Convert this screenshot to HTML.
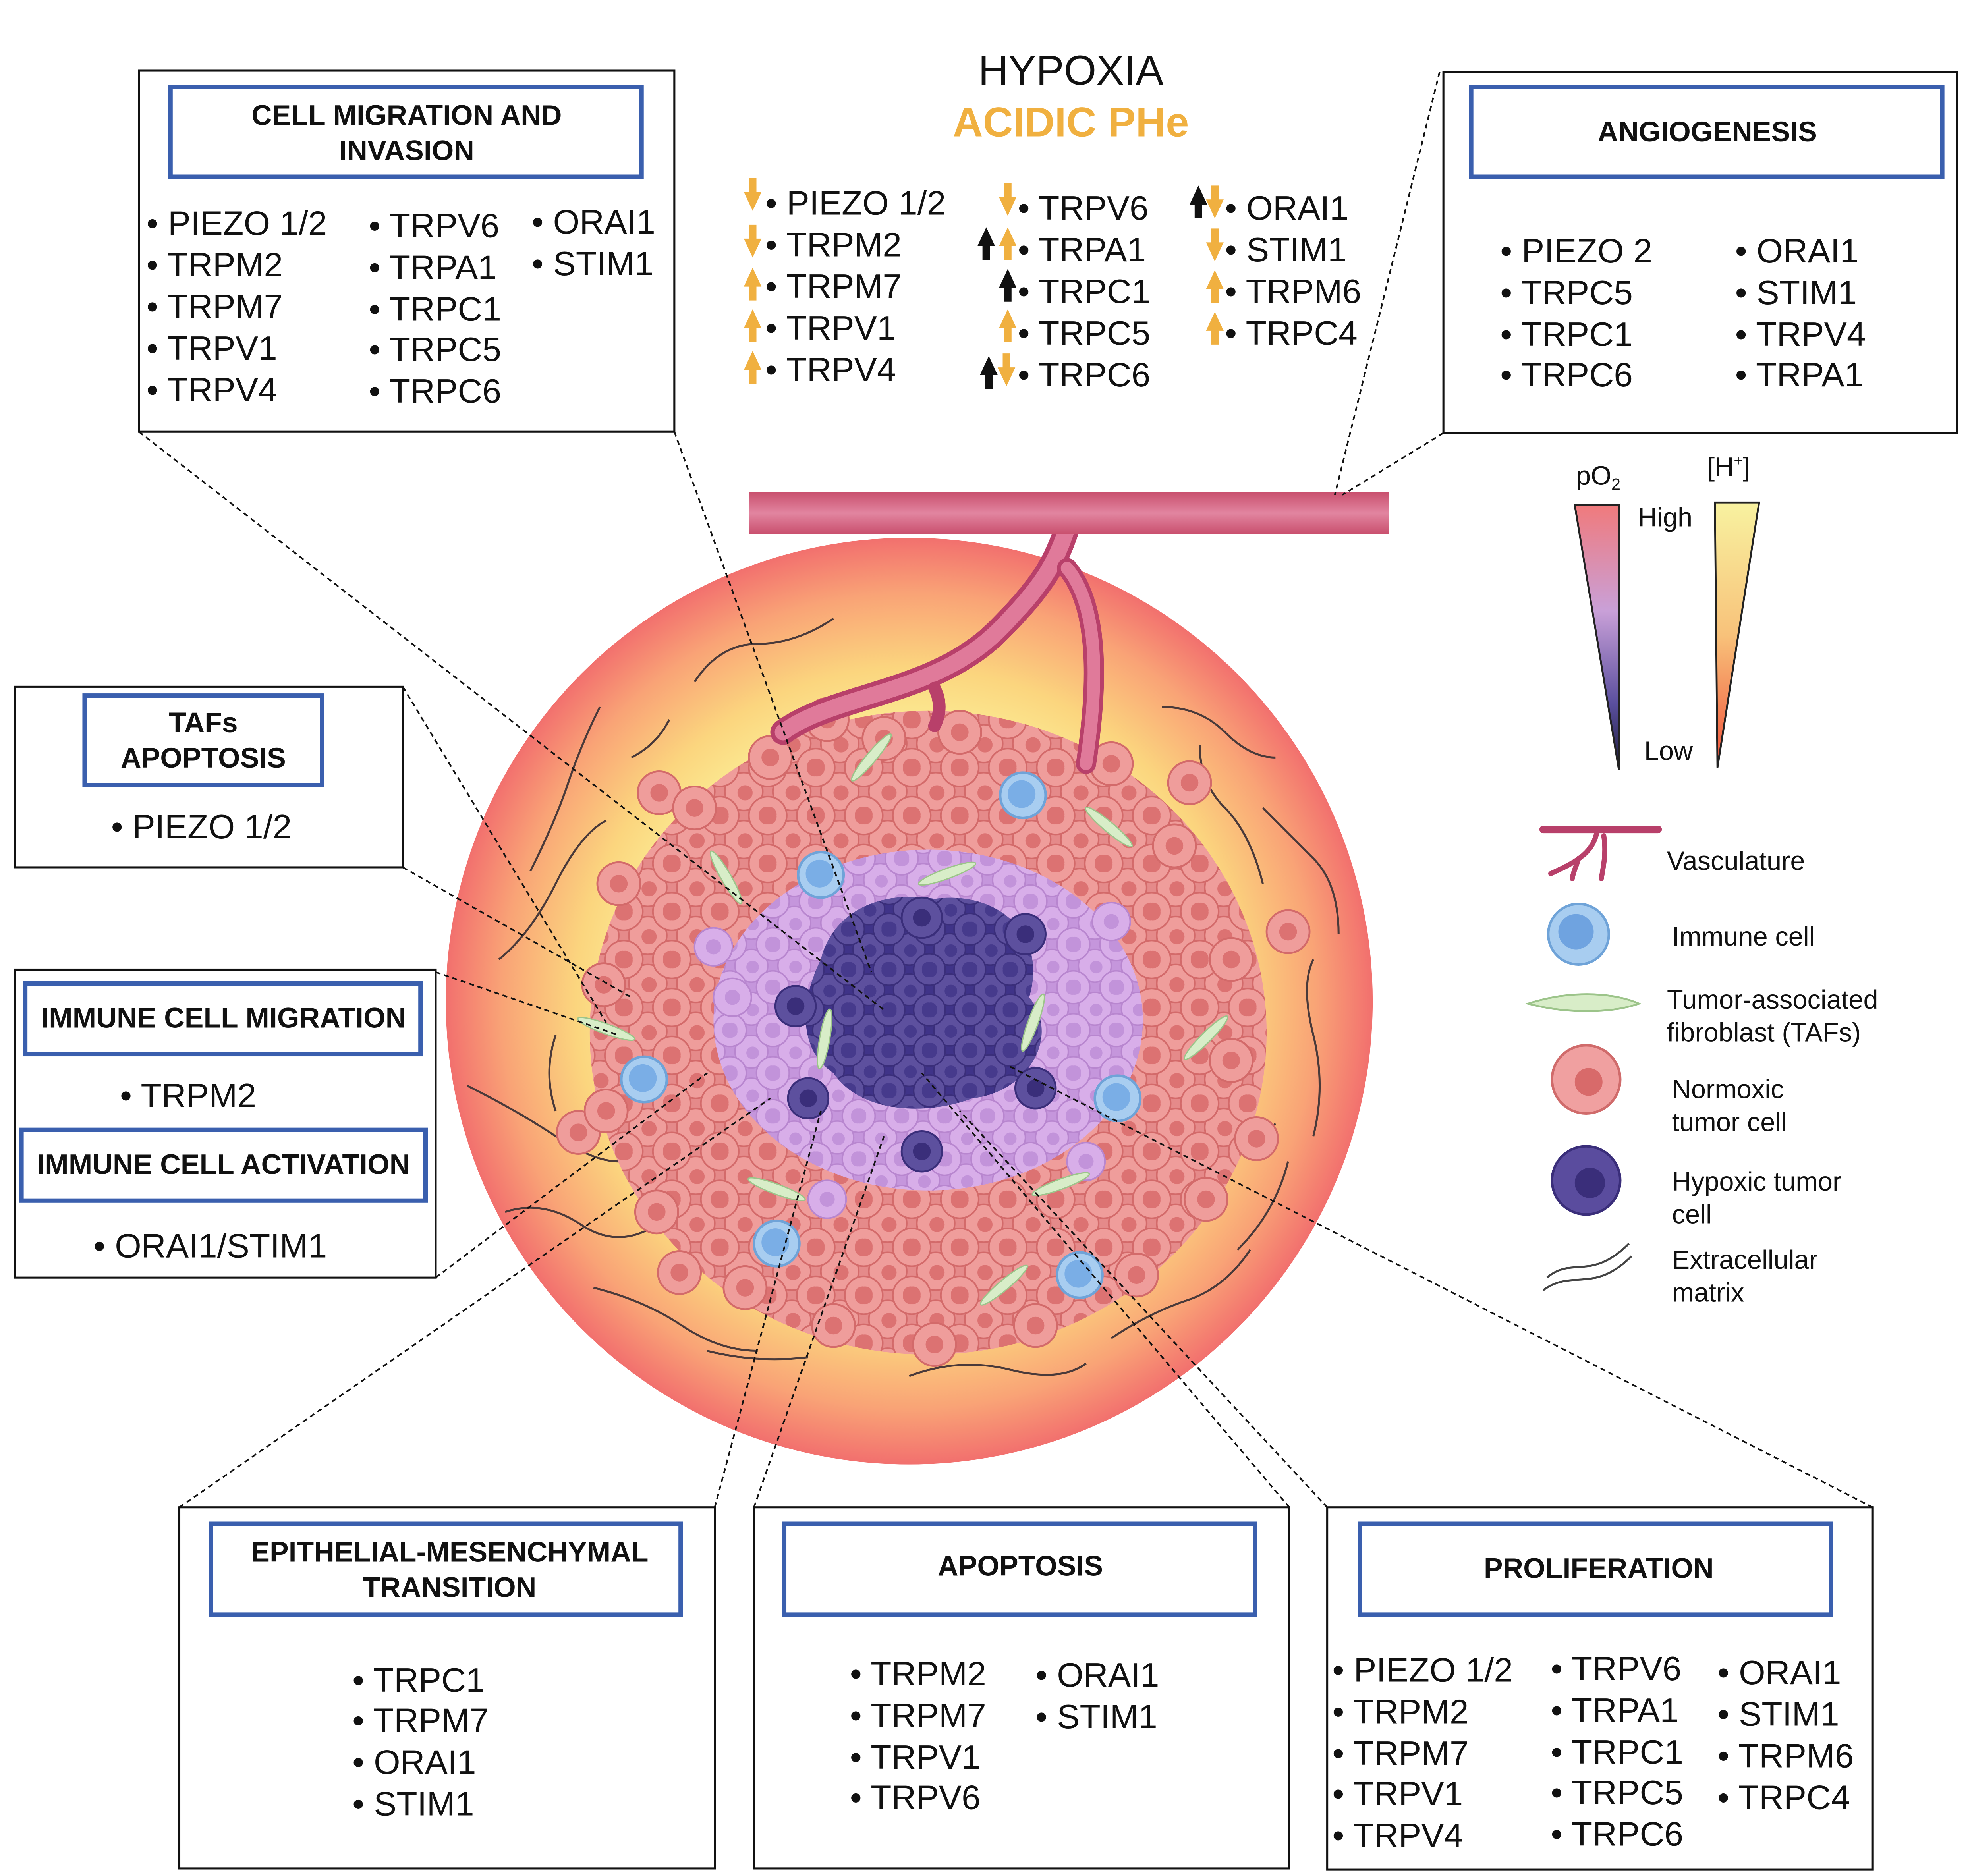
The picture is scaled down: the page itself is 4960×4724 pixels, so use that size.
<!DOCTYPE html>
<html><head><meta charset="utf-8"><style>
html,body{margin:0;padding:0;background:#fff}
svg{display:block}
text{font-family:"Liberation Sans",sans-serif}
.b{font-size:27px;fill:#111}
.t{font-size:22.5px;font-weight:bold;fill:#111}
.l{font-size:21px;fill:#111}
</style></head><body>
<svg width="4960" height="4724" viewBox="0 0 1560 1486" preserveAspectRatio="none" xmlns="http://www.w3.org/2000/svg">
<defs>
<radialGradient id="tg" cx="50%" cy="50%" r="50%">
<stop offset="0.55" stop-color="#fbf29a"/><stop offset="0.72" stop-color="#fbd57e"/><stop offset="0.88" stop-color="#f9a376"/><stop offset="1" stop-color="#f2706e"/>
</radialGradient>
<linearGradient id="po" x1="0" y1="0" x2="0" y2="1"><stop offset="0" stop-color="#f07a7c"/><stop offset="0.4" stop-color="#c9a0d8"/><stop offset="0.75" stop-color="#5a4f9e"/><stop offset="1" stop-color="#1b1b3a"/></linearGradient>
<linearGradient id="hp" x1="0" y1="0" x2="0" y2="1"><stop offset="0" stop-color="#f8f2a0"/><stop offset="0.5" stop-color="#f8c27a"/><stop offset="1" stop-color="#f0503a"/></linearGradient>
<linearGradient id="vs" x1="0" y1="0" x2="0" y2="1"><stop offset="0" stop-color="#c9506e"/><stop offset="0.5" stop-color="#e285a0"/><stop offset="1" stop-color="#c9506e"/></linearGradient>
<path id="up" d="M0,-13 L7,2 L3,2 L3,13 L-3,13 L-3,2 L-7,2Z"/>
<pattern id="pk" width="38" height="38" patternUnits="userSpaceOnUse">
<rect width="38" height="38" fill="#e58a8a"/>
<g fill="#ef9d9b" stroke="#d36a6a" stroke-width="1.3">
<circle cx="19" cy="19" r="15"/><circle cx="0" cy="0" r="15"/><circle cx="38" cy="0" r="15"/><circle cx="0" cy="38" r="15"/><circle cx="38" cy="38" r="15"/></g>
<g fill="#dc7272"><circle cx="20" cy="20" r="6"/><circle cx="1" cy="1" r="6"/><circle cx="37" cy="1" r="6"/><circle cx="1" cy="37" r="6"/><circle cx="37" cy="37" r="6"/></g>
</pattern>
<pattern id="pu" width="34" height="34" patternUnits="userSpaceOnUse">
<rect width="34" height="34" fill="#c596dc"/>
<g fill="#d8aee9" stroke="#b886cf" stroke-width="1.2">
<circle cx="17" cy="17" r="13"/><circle cx="0" cy="0" r="13"/><circle cx="34" cy="0" r="13"/><circle cx="0" cy="34" r="13"/><circle cx="34" cy="34" r="13"/></g>
<g fill="#c293da"><circle cx="18" cy="18" r="5"/><circle cx="1" cy="1" r="5"/><circle cx="33" cy="1" r="5"/><circle cx="1" cy="33" r="5"/><circle cx="33" cy="33" r="5"/></g>
</pattern>
<pattern id="dk" width="32" height="32" patternUnits="userSpaceOnUse">
<rect width="32" height="32" fill="#3f3388"/>
<g fill="#5d509e" stroke="#3a2e7a" stroke-width="1.2">
<circle cx="16" cy="16" r="12.5"/><circle cx="0" cy="0" r="12.5"/><circle cx="32" cy="0" r="12.5"/><circle cx="0" cy="32" r="12.5"/><circle cx="32" cy="32" r="12.5"/></g>
<g fill="#463a8c"><circle cx="17" cy="17" r="5"/><circle cx="1" cy="1" r="5"/><circle cx="31" cy="1" r="5"/><circle cx="1" cy="31" r="5"/><circle cx="31" cy="31" r="5"/></g>
</pattern>
<g id="nc"><circle r="17" fill="#ef9d9b" stroke="#d36a6a" stroke-width="1.5"/><circle r="7" fill="#dc7272"/></g>
<g id="hc"><circle r="16" fill="#5d509e" stroke="#3a2e7a" stroke-width="1.5"/><circle r="7" fill="#3a2e7a"/></g>
<g id="pc"><circle r="15" fill="#d8aee9" stroke="#b886cf" stroke-width="1.3"/><circle r="6" fill="#c293da"/></g>
<g id="ic"><circle r="18" fill="#a8cdf0" stroke="#6fa3d8" stroke-width="2"/><circle cx="-1" cy="-1" r="11" fill="#7aaee6"/></g>
<ellipse id="fb" rx="24" ry="4" fill="#d8edc8" stroke="#9cc48a"/>
</defs>
<circle cx="720" cy="793" r="367" fill="url(#tg)"/>
<g fill="none" stroke="#4a3a3a" stroke-width="1.6">
<path d="M420,690 q20,-40 30,-70 t25,-60"/><path d="M395,760 q25,-20 45,-60 t40,-50"/><path d="M370,860 q40,20 70,40 t50,20"/>
<path d="M400,960 q30,-10 60,10 t60,0"/><path d="M470,1020 q40,10 70,30 t60,20"/><path d="M560,1070 q40,10 80,5"/>
<path d="M720,1090 q40,-15 80,-5 t60,-5"/><path d="M880,1060 q30,-20 60,-30 t50,-40"/><path d="M980,990 q30,-30 40,-70"/>
<path d="M1040,900 q10,-40 0,-80 t0,-60"/><path d="M1000,700 q-10,-40 -30,-60 t-20,-50"/><path d="M920,560 q30,0 50,20 t40,20"/>
<path d="M660,490 q-30,20 -60,20 t-50,30"/><path d="M1000,640 q20,20 40,40 t20,60"/><path d="M440,820 q-10,30 0,60"/>
<path d="M960,920 q30,-10 50,-30"/><path d="M500,600 q20,-10 30,-30"/>
</g>
<ellipse cx="735" cy="818" rx="268" ry="255" fill="url(#pk)"/>
<g>
<use href="#nc" x="655" y="570"/><use href="#nc" x="522" y="628"/><use href="#nc" x="942" y="620"/><use href="#nc" x="1020" y="738"/><use href="#nc" x="995" y="902"/><use href="#nc" x="538" y="1008"/><use href="#nc" x="458" y="897"/>
<use href="#nc" x="610" y="600"/><use href="#nc" x="700" y="585"/><use href="#nc" x="760" y="580"/><use href="#nc" x="880" y="605"/><use href="#nc" x="930" y="670"/><use href="#nc" x="975" y="760"/><use href="#nc" x="975" y="840"/><use href="#nc" x="955" y="950"/><use href="#nc" x="900" y="1010"/><use href="#nc" x="820" y="1050"/><use href="#nc" x="740" y="1065"/><use href="#nc" x="660" y="1050"/><use href="#nc" x="590" y="1020"/><use href="#nc" x="520" y="960"/><use href="#nc" x="480" y="880"/><use href="#nc" x="478" y="780"/><use href="#nc" x="490" y="700"/><use href="#nc" x="550" y="640"/>
</g>
<ellipse cx="735" cy="808" rx="170" ry="135" fill="url(#pu)"/>
<use href="#pc" x="580" y="790"/><use href="#pc" x="565" y="750"/><use href="#pc" x="880" y="730"/><use href="#pc" x="655" y="950"/><use href="#pc" x="860" y="920"/>
<path d="M650,760 C660,720 700,705 740,712 C790,705 830,740 815,790 C840,820 815,865 770,870 C730,885 680,880 660,850 C630,830 635,790 650,760Z" fill="url(#dk)"/>
<use href="#hc" x="730" y="727"/><use href="#hc" x="630" y="797"/><use href="#hc" x="640" y="870"/><use href="#hc" x="730" y="912"/><use href="#hc" x="820" y="862"/><use href="#hc" x="812" y="740"/>
<use href="#ic" x="510" y="855"/><use href="#ic" x="650" y="693"/><use href="#ic" x="810" y="630"/><use href="#ic" x="885" y="870"/><use href="#ic" x="855" y="1010"/><use href="#ic" x="615" y="985"/>
<use href="#fb" transform="translate(480,815) rotate(20)"/><use href="#fb" transform="translate(575,695) rotate(60)"/><use href="#fb" transform="translate(690,600) rotate(-50)"/><use href="#fb" transform="translate(750,692) rotate(-20)"/><use href="#fb" transform="translate(878,655) rotate(40)"/><use href="#fb" transform="translate(818,810) rotate(-70)"/><use href="#fb" transform="translate(653,823) rotate(-80)"/><use href="#fb" transform="translate(615,942) rotate(20)"/><use href="#fb" transform="translate(840,938) rotate(-20)"/><use href="#fb" transform="translate(795,1018) rotate(-40)"/><use href="#fb" transform="translate(955,822) rotate(-45)"/>
<g fill="none" stroke-linecap="round">
<path d="M850,400 C840,440 830,460 790,500 C740,550 660,550 620,580" stroke="#b8406a" stroke-width="20"/>
<path d="M850,400 C840,440 830,460 790,500 C740,550 660,550 620,580" stroke="#e07a9a" stroke-width="13"/>
<path d="M845,450 C870,480 870,540 860,605" stroke="#b8406a" stroke-width="16"/>
<path d="M845,450 C870,480 870,540 860,605" stroke="#e07a9a" stroke-width="10"/>
<path d="M740,545 C745,555 745,565 740,575" stroke="#b8406a" stroke-width="10"/>
</g>
<rect x="593" y="390" width="507" height="33" fill="url(#vs)"/>
<g fill="none" stroke="#111" stroke-width="1.3" stroke-dasharray="4,3">
<line x1="110" y1="342" x2="700" y2="800"/><line x1="534" y1="342" x2="690" y2="770"/>
<line x1="1140" y1="57" x2="1057" y2="392"/><line x1="1143" y1="343" x2="1063" y2="392"/>
<line x1="319" y1="544" x2="480" y2="810"/><line x1="319" y1="687" x2="500" y2="790"/>
<line x1="345" y1="770" x2="490" y2="820"/><line x1="345" y1="1012" x2="560" y2="850"/>
<line x1="142" y1="1194" x2="610" y2="870"/><line x1="566" y1="1194" x2="650" y2="880"/>
<line x1="597" y1="1194" x2="700" y2="900"/><line x1="1021" y1="1194" x2="730" y2="850"/>
<line x1="1051" y1="1194" x2="760" y2="880"/><line x1="1483" y1="1194" x2="800" y2="845"/>
</g>
<g fill="#fff" stroke="#111" stroke-width="1.6">
<rect x="110" y="56" width="424" height="286"/><rect x="1143" y="57" width="407" height="286"/>
<rect x="12" y="544" width="307" height="143"/><rect x="12" y="768" width="333" height="244"/>
<rect x="142" y="1194" width="424" height="286"/><rect x="597" y="1194" width="424" height="286"/><rect x="1051" y="1194" width="432" height="287"/>
</g>
<g fill="none" stroke="#3a5fae" stroke-width="3.5">
<rect x="135" y="69" width="373" height="71"/><rect x="1165" y="69" width="373" height="71"/>
<rect x="67" y="551" width="188" height="71"/><rect x="20" y="779" width="313" height="56"/><rect x="17" y="895" width="320" height="56"/>
<rect x="167" y="1207" width="372" height="72"/><rect x="621" y="1207" width="373" height="72"/><rect x="1077" y="1207" width="373" height="72"/>
</g>
<g class="t" text-anchor="middle">
<text x="322" y="99">CELL MIGRATION AND</text><text x="322" y="127">INVASION</text>
<text x="1352" y="112">ANGIOGENESIS</text>
<text x="161" y="580">TAFs</text><text x="161" y="608">APOPTOSIS</text>
<text x="177" y="814">IMMUNE CELL MIGRATION</text><text x="177" y="930">IMMUNE CELL ACTIVATION</text>
<text x="356" y="1237">EPITHELIAL-MESENCHYMAL</text><text x="356" y="1265">TRANSITION</text>
<text x="808" y="1248">APOPTOSIS</text><text x="1266" y="1250">PROLIFERATION</text>
</g>
<g class="b">
<text x="116" y="186">• PIEZO 1/2</text><text x="116" y="219">• TRPM2</text><text x="116" y="252">• TRPM7</text><text x="116" y="285">• TRPV1</text><text x="116" y="318">• TRPV4</text>
<text x="292" y="188">• TRPV6</text><text x="292" y="221">• TRPA1</text><text x="292" y="254">• TRPC1</text><text x="292" y="286">• TRPC5</text><text x="292" y="319">• TRPC6</text>
<text x="421" y="185">• ORAI1</text><text x="421" y="218">• STIM1</text>
<text x="1188" y="208">• PIEZO 2</text><text x="1188" y="241">• TRPC5</text><text x="1188" y="274">• TRPC1</text><text x="1188" y="306">• TRPC6</text>
<text x="1374" y="208">• ORAI1</text><text x="1374" y="241">• STIM1</text><text x="1374" y="274">• TRPV4</text><text x="1374" y="306">• TRPA1</text>
<text x="88" y="664">• PIEZO 1/2</text>
<text x="95" y="877">• TRPM2</text><text x="74" y="996">• ORAI1/STIM1</text>
<text x="279" y="1340">• TRPC1</text><text x="279" y="1372">• TRPM7</text><text x="279" y="1405">• ORAI1</text><text x="279" y="1438">• STIM1</text>
<text x="673" y="1335">• TRPM2</text><text x="673" y="1368">• TRPM7</text><text x="673" y="1401">• TRPV1</text><text x="673" y="1433">• TRPV6</text>
<text x="820" y="1336">• ORAI1</text><text x="820" y="1369">• STIM1</text>
<text x="1055" y="1332">• PIEZO 1/2</text><text x="1055" y="1365">• TRPM2</text><text x="1055" y="1398">• TRPM7</text><text x="1055" y="1430">• TRPV1</text><text x="1055" y="1463">• TRPV4</text>
<text x="1228" y="1331">• TRPV6</text><text x="1228" y="1364">• TRPA1</text><text x="1228" y="1397">• TRPC1</text><text x="1228" y="1429">• TRPC5</text><text x="1228" y="1462">• TRPC6</text>
<text x="1360" y="1334">• ORAI1</text><text x="1360" y="1367">• STIM1</text><text x="1360" y="1400">• TRPM6</text><text x="1360" y="1433">•  TRPC4</text>
<text x="606" y="170">• PIEZO 1/2</text><text x="606" y="203">• TRPM2</text><text x="606" y="236">• TRPM7</text><text x="606" y="269">• TRPV1</text><text x="606" y="302">• TRPV4</text>
<text x="806" y="174">• TRPV6</text><text x="806" y="207">• TRPA1</text><text x="806" y="240">• TRPC1</text><text x="806" y="273">• TRPC5</text><text x="806" y="306">• TRPC6</text>
<text x="970" y="174">• ORAI1</text><text x="970" y="207">• STIM1</text><text x="970" y="240">• TRPM6</text><text x="970" y="273">• TRPC4</text>
</g>
<text x="848" y="67" text-anchor="middle" style="font-size:33px;fill:#111">HYPOXIA</text>
<text x="848" y="108" text-anchor="middle" style="font-size:33px;font-weight:bold;fill:#f0b040">ACIDIC PHe</text>
<g fill="#f0b040">
<use href="#up" transform="translate(596,154) rotate(180)"/><use href="#up" transform="translate(596,191) rotate(180)"/>
<use href="#up" transform="translate(596,225)"/><use href="#up" transform="translate(596,258)"/><use href="#up" transform="translate(596,291)"/>
<use href="#up" transform="translate(798,158) rotate(180)"/><use href="#up" transform="translate(798,193)"/>
<use href="#up" transform="translate(798,258)"/><use href="#up" transform="translate(797,293) rotate(180)"/>
<use href="#up" transform="translate(962,160) rotate(180)"/><use href="#up" transform="translate(962,194) rotate(180)"/>
<use href="#up" transform="translate(962,227)"/><use href="#up" transform="translate(962,260)"/>
</g>
<g fill="#111">
<use href="#up" transform="translate(781,193)"/><use href="#up" transform="translate(798,226)"/><use href="#up" transform="translate(783,295)"/><use href="#up" transform="translate(949,160)"/>
</g>
<polygon points="1247,400 1282,400 1282,610" fill="url(#po)" stroke="#222" stroke-width="1.5"/>
<polygon points="1358,398 1393,398 1360,608" fill="url(#hp)" stroke="#222" stroke-width="1.5"/>
<text x="1248" y="384" class="l">pO<tspan style="font-size:13px" dy="4">2</tspan></text>
<text x="1352" y="377" class="l">[H<tspan style="font-size:12px" dy="-8">+</tspan><tspan dy="8">]</tspan></text>
<text x="1297" y="417" class="l">High</text><text x="1302" y="602" class="l">Low</text>
<g fill="none" stroke-linecap="round">
<path d="M1222,657 L1313,657" stroke="#b8406a" stroke-width="6"/>
<path d="M1265,657 C1262,675 1250,682 1228,692 M1250,680 C1248,687 1246,690 1245,696 M1270,662 C1272,675 1270,685 1268,696" stroke="#b8406a" stroke-width="4"/>
</g>
<circle cx="1250" cy="740" r="24" fill="#a8cdf0" stroke="#6fa3d8" stroke-width="2"/><circle cx="1248" cy="738" r="14" fill="#6fa3e0"/>
<path d="M1210,795 C1240,785 1275,785 1298,795 C1275,803 1240,803 1210,795Z" fill="#d8edc8" stroke="#9cc48a" stroke-width="1.5"/>
<circle cx="1256" cy="855" r="27" fill="#f0a0a0" stroke="#d06b6b" stroke-width="2"/><circle cx="1258" cy="857" r="11" fill="#d86a6a"/>
<circle cx="1256" cy="935" r="27" fill="#5a4c9e" stroke="#3a2e7a" stroke-width="2"/><circle cx="1259" cy="937" r="12" fill="#3a2e7a"/>
<path d="M1225,1012 C1245,995 1260,1015 1290,985 M1222,1022 C1245,1005 1262,1025 1292,995" fill="none" stroke="#444" stroke-width="1.6"/>
<g class="l">
<text x="1320" y="689">Vasculature</text><text x="1324" y="749">Immune cell</text>
<text x="1320" y="799">Tumor-associated</text><text x="1320" y="825">fibroblast (TAFs)</text>
<text x="1324" y="870">Normoxic</text><text x="1324" y="896">tumor cell</text>
<text x="1324" y="943">Hypoxic  tumor</text><text x="1324" y="969">cell</text>
<text x="1324" y="1005">Extracellular</text><text x="1324" y="1031">matrix</text>
</g>
</svg>
</body></html>
